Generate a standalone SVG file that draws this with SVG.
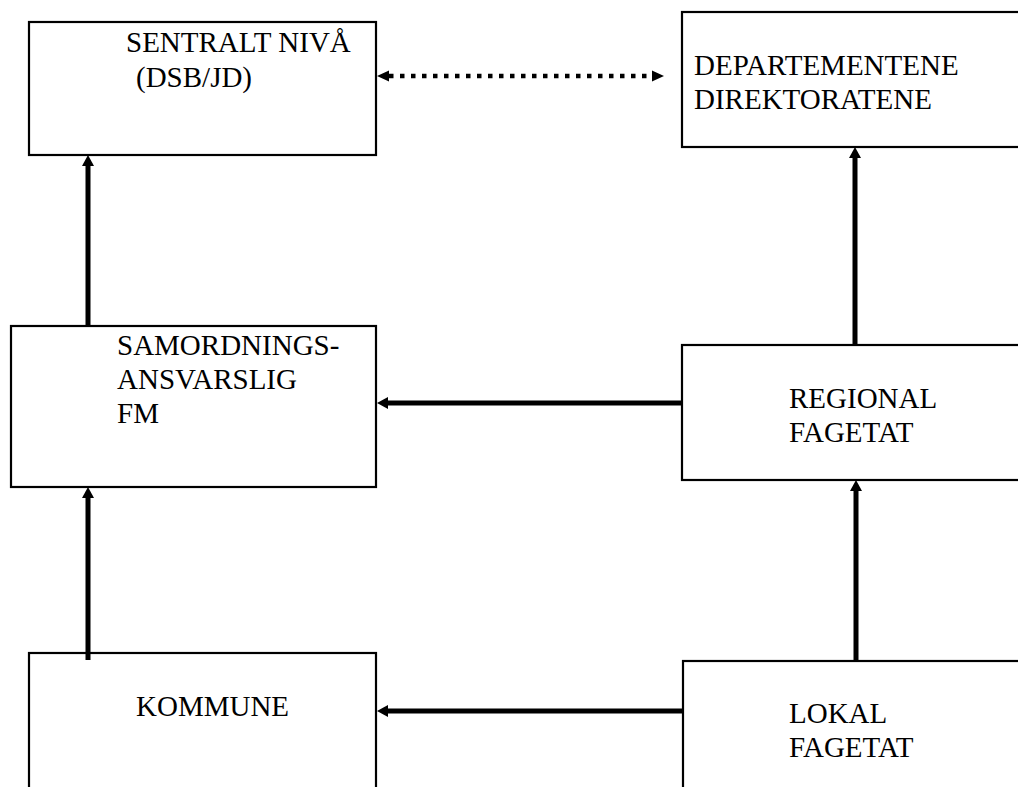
<svg xmlns="http://www.w3.org/2000/svg" width="1018" height="787" viewBox="0 0 1018 787">
<style>
.box{fill:#fff;stroke:#000;stroke-width:2.2}
.t{font-family:'Liberation Serif','Times New Roman','DejaVu Serif',serif;font-size:29px;fill:#000}
.c{stroke:#000;stroke-width:5;fill:none}
.d{stroke:#000;stroke-width:4.5;fill:none;stroke-dasharray:4.5 6.5}
</style>
<rect width="1018" height="787" fill="#fff"/>
<g id="sentralt">
<rect class="box" x="29" y="22" width="347" height="133"/>
<text class="t" font-family="Liberation Serif, serif" x="126" y="52">SENTRALT NIVÅ</text>
<text class="t" font-family="Liberation Serif, serif" x="136" y="87">(DSB/JD)</text>
</g>
<g id="departementene">
<rect class="box" x="682" y="12" width="346" height="135"/>
<text class="t" font-family="Liberation Serif, serif" x="694" y="75">DEPARTEMENTENE</text>
<text class="t" font-family="Liberation Serif, serif" x="694" y="109">DIREKTORATENE</text>
</g>
<g id="samordning">
<rect class="box" x="11" y="326" width="365" height="161"/>
<text class="t" font-family="Liberation Serif, serif" x="117" y="355">SAMORDNINGS-</text>
<text class="t" font-family="Liberation Serif, serif" x="117" y="389">ANSVARSLIG</text>
<text class="t" font-family="Liberation Serif, serif" x="117" y="423">FM</text>
</g>
<g id="regional">
<rect class="box" x="682" y="345" width="346" height="135"/>
<text class="t" font-family="Liberation Serif, serif" x="789" y="408">REGIONAL</text>
<text class="t" font-family="Liberation Serif, serif" x="789" y="442">FAGETAT</text>
</g>
<g id="kommune">
<rect class="box" x="29" y="653" width="347" height="150"/>
<text class="t" font-family="Liberation Serif, serif" x="136" y="716">KOMMUNE</text>
</g>
<g id="lokal">
<rect class="box" x="683" y="661" width="346" height="140"/>
<text class="t" font-family="Liberation Serif, serif" x="789" y="723">LOKAL</text>
<text class="t" font-family="Liberation Serif, serif" x="789" y="757">FAGETAT</text>
</g>
<g id="connectors">
<line class="d" x1="389" y1="76" x2="652" y2="76"/>
<path d="M377,76 L389,70.5 L389,81.5 Z" fill="#000"/>
<path d="M664,76 L652,70.5 L652,81.5 Z" fill="#000"/>
<line class="c" x1="88" y1="326" x2="88" y2="164"/>
<path d="M88,155 L82,166 L94,166 Z" fill="#000"/>
<line class="c" x1="855" y1="345" x2="855" y2="156"/>
<path d="M855,147 L849,158 L861,158 Z" fill="#000"/>
<line class="c" x1="682" y1="403" x2="386" y2="403"/>
<path d="M377,403 L388,397 L388,409 Z" fill="#000"/>
<line class="c" x1="88" y1="660" x2="88" y2="496"/>
<path d="M88,487 L82,498 L94,498 Z" fill="#000"/>
<line class="c" x1="856" y1="661" x2="856" y2="489"/>
<path d="M856,480 L850,491 L862,491 Z" fill="#000"/>
<line class="c" x1="683" y1="711" x2="386" y2="711"/>
<path d="M377,711 L388,705 L388,717 Z" fill="#000"/>
</g>
</svg>
